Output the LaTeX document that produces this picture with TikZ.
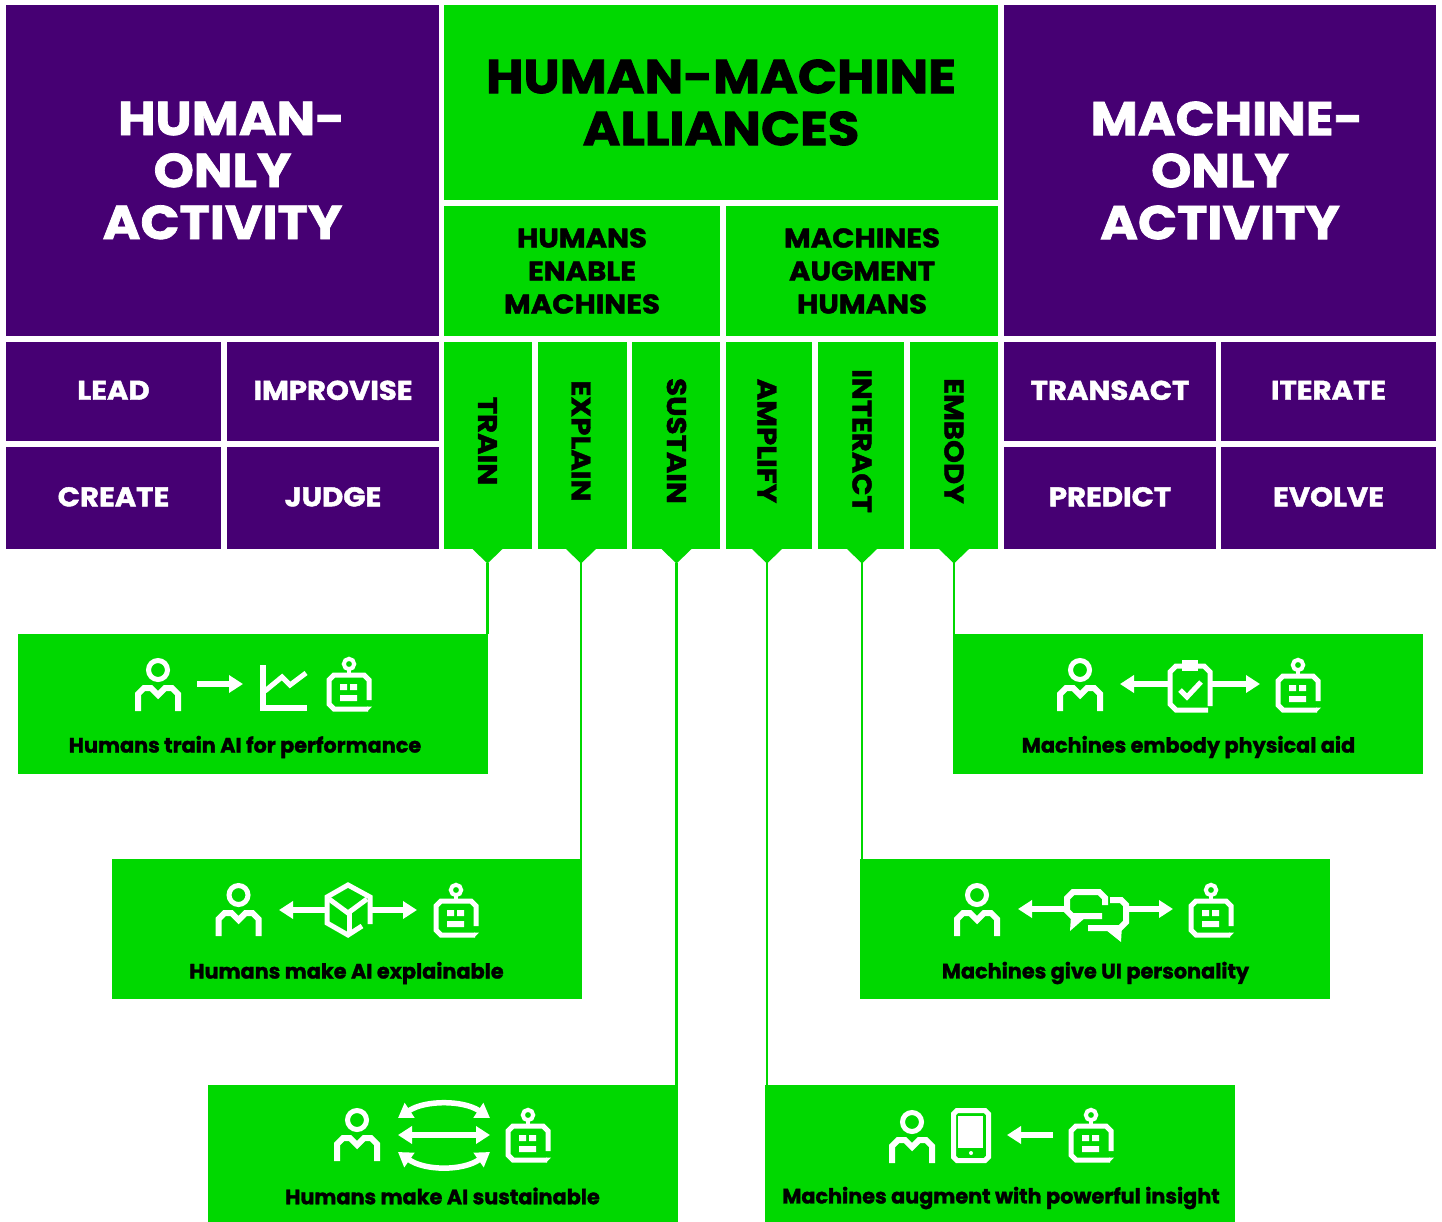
\documentclass[tikz,border=0pt]{standalone}
\usepackage{fontspec}
\setmainfont{Poppins}[BoldFeatures={FakeBold=1.5}]
\newfontfamily\widef{Poppins}[BoldFeatures={FakeBold=1.6,FakeStretch=1.08}]
\usetikzlibrary{arrows.meta}
\definecolor{pur}{HTML}{460073}
\definecolor{grn}{HTML}{00D800}
\tikzset{
  x=1pt,y=-1pt,
  tile/.style={inner sep=0pt,outer sep=0pt,align=center,text=#1},
  big/.style={font=\fontsize{47.5}{52}\widef\bfseries\selectfont},
  mid/.style={font=\fontsize{27}{33}\widef\bfseries\selectfont},
  sml/.style={font=\fontsize{27}{30}\widef\bfseries\selectfont},
  captxt/.style={font=\fontsize{20.8}{24}\bfseries\selectfont,text=black,inner sep=0pt},
  ic/.style={draw=white,line width=5pt,line join=miter,line cap=butt},
  thin ic/.style={draw=white,line width=4pt,line join=miter,line cap=butt},
  blk/.style={draw=white,line width=6.5pt,-{Triangle[length=14pt,width=17pt,fill=white]}},
  blk2/.style={draw=white,line width=6.5pt,{Triangle[length=14pt,width=17pt,fill=white]}-{Triangle[length=14pt,width=17pt,fill=white]}},
  conn/.style={draw=grn,line width=2.6pt},
  person/.pic={
    \draw[ic] (0,0) circle (9.5);
    \draw[ic,line width=6pt] (-20,41)--(-20,24)--(-14,18)--(-7,18)--(0,25)--(7,18)--(14,18)--(20,24)--(20,41);
  },
  robot/.pic={
    \draw[thin ic] (0,0) circle (5.2);
    \draw[thin ic] (0,6)--(0,11);
    \draw[ic] (20,36)--(20,16)--(15,11)--(-15,11)--(-20,16)--(-20,40)--(-15,45)--(19,45);
    \fill[white] (-9,20) rectangle (-2,26) (1,20) rectangle (8,26) (-9,31) rectangle (8,37);
    \fill[white] (18,42.5)--(23,42.5)--(18,47.5)--cycle;
  }
}
\newcommand{\up}[1]{\raisebox{2.5pt}{#1}}
% \bx{name}{x0}{y0}{x1}{y1}{fill}{textcolour}{style}{text}
\newcommand{\bx}[9]{%
  \pgfmathsetlengthmacro{\bw}{#4-#2}\pgfmathsetlengthmacro{\bh}{#5-#3}%
  \node[fill=#6,tile=#7,#8,minimum width=\bw,minimum height=\bh] (#1) at ({(#2+#4)/2},{(#3+#5)/2}) {#9};}
% \vbx{name}{x0}{x1}{text}{tip x}
\newcommand{\vbx}[5]{%
  \pgfmathsetlengthmacro{\bw}{#3-#2}%
  \node[fill=grn,inner sep=0pt,outer sep=0pt,minimum width=\bw,minimum height=207pt] (#1) at ({(#2+#3)/2},445.5) {};
  \fill[grn] (#5-15,549)--(#5,563.5)--(#5+15,549)--cycle;
  \coordinate (#1tip) at (#5,563);
  \node[mid,text=black,rotate=-90,inner sep=0pt] (#1lab) at (#5,441) {#4};}
\begin{document}
\begin{tikzpicture}
\useasboundingbox (0,0) rectangle (1442,1222);
\fill[white] (0,0) rectangle (1442,1222);
% top tier
\bx{hum}{6}{5}{439}{336}{pur}{white}{big}{\hspace*{18pt}HUMAN-\\ONLY\\ACTIVITY}
\bx{all}{444}{5}{998}{200}{grn}{black}{big}{HUMAN-MACHINE\\ALLIANCES}
\bx{mac}{1004}{5}{1436}{336}{pur}{white}{big}{\hspace*{14pt}MACHINE-\\ONLY\\ACTIVITY}
\bx{hem}{444}{206}{720}{336}{grn}{black}{mid}{HUMANS\\ENABLE\\MACHINES}
\bx{mah}{726}{206}{998}{336}{grn}{black}{mid}{MACHINES\\AUGMENT\\HUMANS}
% purple tiles
\bx{lead}{6}{342}{221}{441}{pur}{white}{sml}{\up{LEAD}}
\bx{impr}{227}{342}{439}{441}{pur}{white}{sml}{\up{IMPROVISE}}
\bx{crea}{6}{447}{221}{549}{pur}{white}{sml}{\up{CREATE}}
\bx{judg}{227}{447}{439}{549}{pur}{white}{sml}{\up{JUDGE}}
\bx{tran}{1004}{342}{1216}{441}{pur}{white}{sml}{\up{TRANSACT}}
\bx{iter}{1221}{342}{1436}{441}{pur}{white}{sml}{\up{ITERATE}}
\bx{pred}{1004}{447}{1216}{549}{pur}{white}{sml}{\up{PREDICT}}
\bx{evol}{1221}{447}{1436}{549}{pur}{white}{sml}{\up{EVOLVE}}
% vertical tabs
\vbx{train}{444}{532}{TRAIN}{487.5}
\vbx{expl}{538}{627}{EXPLAIN}{581}
\vbx{sust}{632}{720}{SUSTAIN}{676.5}
\vbx{ampl}{726}{812}{AMPLIFY}{767}
\vbx{inte}{818}{904}{INTERACT}{862}
\vbx{embo}{910}{998}{EMBODY}{954}
% lower boxes
\bx{b1}{18}{634}{488}{774}{grn}{black}{}{}
\bx{b2}{112}{859}{582}{999}{grn}{black}{}{}
\bx{b3}{208}{1085}{678}{1222}{grn}{black}{}{}
\bx{b4}{953}{634}{1423}{774}{grn}{black}{}{}
\bx{b5}{860}{859}{1330}{999}{grn}{black}{}{}
\bx{b6}{765}{1085}{1235}{1222}{grn}{black}{}{}
% connectors
\draw[conn] (traintip) -- (traintip |- b1.north);
\draw[conn] (expltip) -- (expltip |- b2.north);
\draw[conn] (susttip) -- (susttip |- b3.north);
\draw[conn] (ampltip) -- (ampltip |- b6.north);
\draw[conn] (intetip) -- (intetip |- b5.north);
\draw[conn] (embotip) -- (embotip |- b4.north);
% captions
\node[captxt] (c1) at (245,747) {Humans train AI for performance};
\node[captxt] (c2) at (346.5,973) {Humans make AI explainable};
\node[captxt] (c3) at (442.5,1196) {Humans make AI sustainable};
\node[captxt] (c4) at (1188.5,747) {Machines embody physical aid};
\node[captxt] (c5) at (1095.5,973) {Machines give UI personality};
\node[captxt] (c6) at (1001,1198) {Machines augment with powerful insight};
% icons 1: train
\pic at (158,670) {person};
\draw[blk] (197,684)--(243,684);
\draw[ic,line width=6pt] (263,665)--(263,708)--(307,708);
\draw[ic] (265,691)--(282,677)--(290,685)--(306,673);
\pic at (349,664) {robot};
% icons 2: explainable
\pic at (238.5,895) {person};
\draw[blk] (325,910)--(279,910);
\draw[blk] (372,910)--(417,910);
\draw[ic] (362,926)--(348,935)--(327,923)--(327,897)--(348,885)--(370,897)--(370,924);
\draw[ic] (329,899)--(348,913)--(367,899);
\draw[ic] (349,911)--(349,935);
\pic at (456,890) {robot};
% icons 3: sustainable
\pic at (357,1120) {person};
\draw[blk2] (398,1135)--(490,1135);
\draw[blk2,line width=5.5pt] (398,1118) .. controls (425,1100) and (463,1100) .. (490,1118);
\draw[blk2,line width=5.5pt] (398,1152) .. controls (425,1171) and (463,1171) .. (490,1152);
\pic at (528,1115) {robot};
% icons 4: embody
\pic at (1080,670) {person};
\draw[blk] (1168,684)--(1120,684);
\draw[blk] (1212,684)--(1260,684);
\draw[ic] (1210,706)--(1210,672)--(1204,666)--(1176,666)--(1170,672)--(1170,704)--(1176,710)--(1208,710);
\fill[white] (1182,660) rectangle (1198,671);
\draw[ic] (1180,690)--(1187,697)--(1201,682);
\pic at (1298,665) {robot};
% icons 5: interact
\pic at (977,895) {person};
\draw[blk] (1067,909)--(1018,909);
\draw[blk] (1127,909)--(1173,909);
\draw[ic,line width=6pt] (1105,905)--(1105,898)--(1099,892)--(1073,892)--(1067,898)--(1067,911)--(1072,916)--(1102,916);
\fill[white] (1071,916)--(1070,931)--(1086,917)--cycle;
\draw[ic,line width=6pt] (1110,900)--(1121,900)--(1126,905)--(1126,922)--(1120,928)--(1088,928);
\fill[white] (1122,925)--(1121,942)--(1106,930)--cycle;
\pic at (1211,890) {robot};
% icons 6: amplify
\pic at (912,1122) {person};
\draw[ic] (957,1110.5)--(985,1110.5)--(988.5,1114)--(988.5,1157)--(985,1160.5)--(957,1160.5)--(953.5,1157)--(953.5,1114)--cycle;
\fill[white] (958,1116) rectangle (983,1148);
\fill[white] (971,1153) circle (2);
\draw[blk] (1053,1135)--(1007,1135);
\pic at (1091,1115) {robot};
\end{tikzpicture}
\end{document}
